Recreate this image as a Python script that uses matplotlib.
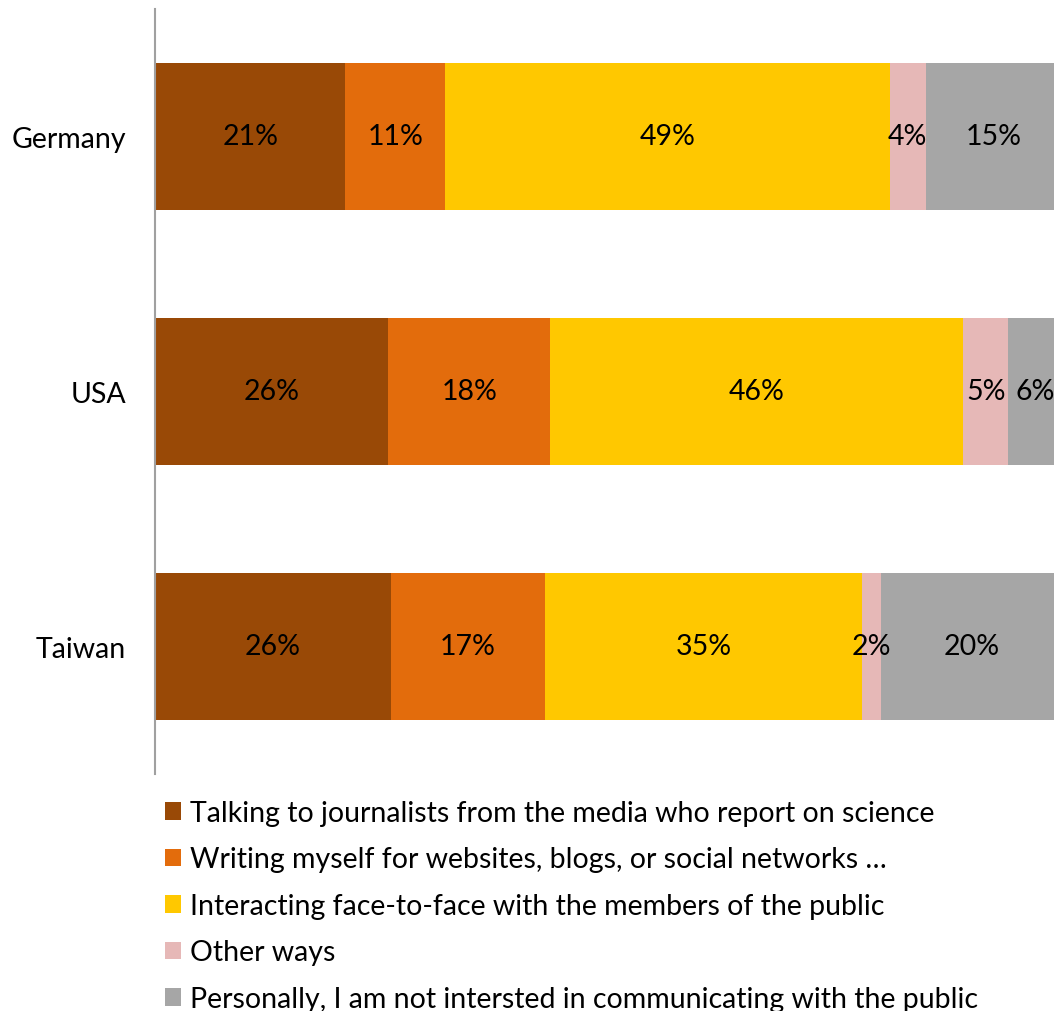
import numpy as np
import matplotlib.pyplot as plt

plt.rcParams['font.family'] = ['Lato', 'DejaVu Sans']

countries = ["Germany", "USA", "Taiwan"]
categories = [
    "Talking to journalists from the media who report on science",
    "Writing myself for websites, blogs, or social networks \u2026",
    "Interacting face-to-face with the members of the public",
    "Other ways",
    "Personally, I am not intersted in communicating with the public",
]
# percent of respondents per country, in category order
talking = [21, 26, 26]
writing = [11, 18, 17]
face_to_face = [49, 46, 35]
other = [4, 5, 2]
not_interested = [15, 6, 20]

series = [talking, writing, face_to_face, other, not_interested]
colors = ["#994906", "#E36C0C", "#FFC800", "#E6B8B7", "#A6A6A6"]

# 100% stacked: each row is scaled by its own total (rounded shares)
totals = np.sum(np.array(series, dtype=float), axis=0)

W, H = 1054, 1012
FS = 20.5
fig = plt.figure(figsize=(W / 100, H / 100), dpi=100)
ax = fig.add_axes([155 / W, 1 - 775 / H, (1062 - 155) / W, (775 - 10) / H])

y = np.arange(len(countries))
left = np.zeros(len(countries))
for vals, col, lab in zip(series, colors, categories):
    vals = np.array(vals, dtype=float)
    widths = vals / totals * 100
    ax.barh(y, widths, left=left, height=0.576, color=col,
            edgecolor="none", label=lab)
    for yi, l, w, v in zip(y, left, widths, vals):
        ax.text(l + w / 2, yi, f"{v:.0f}%", ha="center", va="center",
                fontsize=FS, color="black", clip_on=False)
    left += widths

ax.set_xlim(0, 100)
ax.set_ylim(2.5, -0.5)
ax.set_yticks(y)
ax.set_yticklabels(countries, fontsize=FS)
ax.tick_params(axis="y", length=0, pad=21)
ax.set_xticks([])
for side in ["top", "right", "bottom"]:
    ax.spines[side].set_visible(False)
ax.spines["left"].set_color("#A0A0A0")
ax.spines["left"].set_linewidth(1.5)

fig.legend(loc="upper left", bbox_to_anchor=(165 / W, 1 - 801 / H),
           frameon=False, fontsize=FS, handlelength=0.56, handleheight=0.56,
           handletextpad=0.32, labelspacing=0.72, borderaxespad=0,
           borderpad=0)

fig.savefig("out.png", dpi=100)
